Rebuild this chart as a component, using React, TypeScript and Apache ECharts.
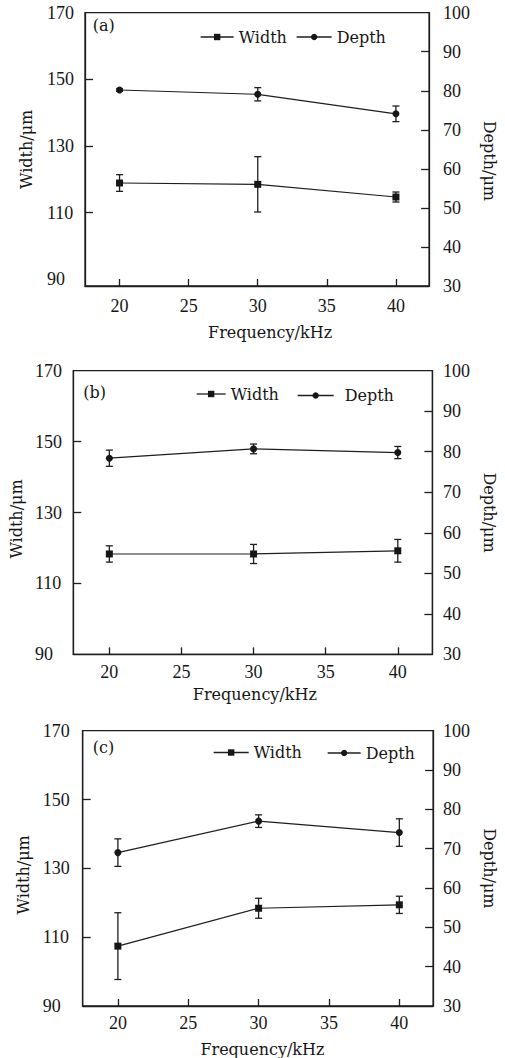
import React, { useEffect, useRef } from "react";
import * as echarts from "echarts";

// ---- data ----
const frequency = [20, 30, 40];
const panelTags = ["(a)", "(b)", "(c)"];

const widthA = [118.9, 118.5, 114.7];
const widthErrA = [2.5, 8.3, 1.5];
const depthA = [80.2, 79.1, 74.1];
const depthErrA = [0.3, 1.7, 2.0];

const widthB = [118.3, 118.3, 119.2];
const widthErrB = [2.3, 2.7, 3.2];
const depthB = [78.4, 80.7, 79.8];
const depthErrB = [2.0, 1.2, 1.5];

const widthC = [107.4, 118.4, 119.4];
const widthErrC = [9.7, 2.9, 2.5];
const depthC = [69.0, 77.0, 74.1];
const depthErrC = [3.5, 1.6, 3.5];

const xTicks = [20, 25, 30, 35, 40];
const widthTicks = [90, 110, 130, 150, 170];
const depthTicks = [30, 40, 50, 60, 70, 80, 90, 100];

const widthSets = [widthA, widthB, widthC];
const widthErrSets = [widthErrA, widthErrB, widthErrC];
const depthSets = [depthA, depthB, depthC];
const depthErrSets = [depthErrA, depthErrB, depthErrC];

// ---- layout (positions & styles) ----
const layouts = [
  {
    grid: { left: 85, top: 12.7, width: 345, height: 273.3 },
    leftMin: 88, leftLabelMargin: 38, rightLabelMargin: 14, xLabelMargin: 11,
    leftNameGap: 51, leftNamePad: [0, 0, 0, 0], rightNameGap: 44, rightNamePad: [0, 0, 0, 23],
    xNameGap: 38, xNamePad: [0, 0, 0, 26],
    tag: { x: 92.7, y: 27 },
    legW: { left: 200, top: 29, itemWidth: 33, pad: [0, 0, 0, 0] },
    legD: { left: 296, top: 29, itemWidth: 35, pad: [0, 0, 0, 0] },
  },
  {
    grid: { left: 71.7, top: 370.7, width: 366, height: 283.6 },
    leftMin: 90, leftLabelMargin: 38.4, rightLabelMargin: 10.7, xLabelMargin: 9,
    leftNameGap: 45, leftNamePad: [0, 13, 0, 0], rightNameGap: 43, rightNamePad: [0, 0, 0, 0],
    xNameGap: 32, xNamePad: [0, 0, 0, 4],
    tag: { x: 83.3, y: 394 },
    legW: { left: 196, top: 386, itemWidth: 29, pad: [0, 0, 0, 0] },
    legD: { left: 297, top: 387.5, itemWidth: 36, pad: [0, 0, 0, 6] },
  },
  {
    grid: { left: 82.7, top: 730.7, width: 362.3, height: 277.6 },
    leftMin: 90, leftLabelMargin: 40, rightLabelMargin: 10, xLabelMargin: 8,
    leftNameGap: 47, leftNamePad: [0, 13, 0, 0], rightNameGap: 41, rightNamePad: [0, 0, 0, 0],
    xNameGap: 35, xNamePad: [0, 0, 0, 9],
    tag: { x: 92.7, y: 749 },
    legW: { left: 213, top: 744.5, itemWidth: 35, pad: [0, 0, 0, 0] },
    legD: { left: 327, top: 745, itemWidth: 33, pad: [0, 0, 0, 0] },
  },
];

const INK = "#161616";
const LINE = "#1e1e1e";
const TICK_FONT = "'Liberation Serif', 'Times New Roman', serif";
const NAME_FONT = "'DejaVu Serif', serif";

function errorBarSeries(xi: number, yi: number, vals: number[], errs: number[]) {
  return {
    type: "custom",
    xAxisIndex: xi,
    yAxisIndex: yi,
    silent: true,
    z: 2,
    encode: { x: 0, y: [1, 2] },
    data: frequency.map((f, k) => [f, vals[k] - errs[k], vals[k] + errs[k]]),
    renderItem: (params: any, api: any) => {
      const x = api.value(0);
      const lo = api.coord([x, api.value(1)]);
      const hi = api.coord([x, api.value(2)]);
      const hw = 3.5;
      const st = { stroke: LINE, lineWidth: 1.3 };
      return {
        type: "group",
        children: [
          { type: "line", shape: { x1: lo[0], y1: lo[1], x2: hi[0], y2: hi[1] }, style: st },
          { type: "line", shape: { x1: lo[0] - hw, y1: lo[1], x2: lo[0] + hw, y2: lo[1] }, style: st },
          { type: "line", shape: { x1: hi[0] - hw, y1: hi[1], x2: hi[0] + hw, y2: hi[1] }, style: st },
        ],
      };
    },
  };
}

function buildOption() {
  const grid: any[] = [];
  const xAxis: any[] = [];
  const yAxis: any[] = [];
  const series: any[] = [];
  const legend: any[] = [];
  const graphic: any[] = [];

  const axisLine = { show: true, lineStyle: { color: LINE, width: 1.3 } };
  const tickLine = { color: LINE, width: 1.3 };
  const labelBase = { fontFamily: TICK_FONT, fontSize: 18, color: INK };
  const nameBase = { fontFamily: NAME_FONT, fontSize: 16, color: INK };

  layouts.forEach((L, i) => {
    grid.push({ ...L.grid, show: true, borderColor: LINE, borderWidth: 1.3, backgroundColor: "transparent", containLabel: false });

    xAxis.push({
      type: "value", gridIndex: i, position: "bottom", min: 17.5, max: 42.4,
      axisLine, splitLine: { show: false },
      axisTick: { show: true, inside: true, length: 7, lineStyle: tickLine, customValues: xTicks },
      axisLabel: { ...labelBase, margin: L.xLabelMargin, customValues: xTicks },
      name: "Frequency/kHz", nameLocation: "middle", nameGap: L.xNameGap,
      nameTextStyle: { ...nameBase, padding: L.xNamePad },
    });

    yAxis.push({
      type: "value", gridIndex: i, position: "left", min: L.leftMin, max: 170,
      axisLine, splitLine: { show: false },
      axisTick: { show: true, inside: true, length: 8, lineStyle: tickLine, customValues: [110, 130, 150] },
      axisLabel: { ...labelBase, align: "left", margin: L.leftLabelMargin, customValues: widthTicks, padding: [5, 0, 0, 0] },
      name: "Width/μm", nameLocation: "middle", nameGap: L.leftNameGap, nameRotate: 90,
      nameTextStyle: { ...nameBase, padding: L.leftNamePad },
    });
    yAxis.push({
      type: "value", gridIndex: i, position: "right", min: 30, max: 100,
      axisLine, splitLine: { show: false },
      axisTick: { show: true, inside: true, length: 8, lineStyle: tickLine, customValues: [40, 50, 60, 70, 80, 90] },
      axisLabel: { ...labelBase, margin: L.rightLabelMargin, customValues: depthTicks, padding: [5, 0, 0, 0] },
      name: "Depth/μm", nameLocation: "middle", nameGap: L.rightNameGap, nameRotate: -90,
      nameTextStyle: { ...nameBase, padding: L.rightNamePad },
    });

    series.push(errorBarSeries(i, 2 * i, widthSets[i], widthErrSets[i]));
    series.push(errorBarSeries(i, 2 * i + 1, depthSets[i], depthErrSets[i]));

    series.push({
      name: "Width", type: "line", xAxisIndex: i, yAxisIndex: 2 * i, z: 3,
      data: frequency.map((f, k) => [f, widthSets[i][k]]),
      symbol: "rect", symbolSize: 7,
      lineStyle: { color: LINE, width: 1.2 }, itemStyle: { color: INK },
    });
    series.push({
      name: "Depth", type: "line", xAxisIndex: i, yAxisIndex: 2 * i + 1, z: 3,
      data: frequency.map((f, k) => [f, depthSets[i][k]]),
      symbol: "circle", symbolSize: 7,
      lineStyle: { color: LINE, width: 1.2 }, itemStyle: { color: INK },
    });

    [["Width", L.legW], ["Depth", L.legD]].forEach(([nm, lg]: any) => {
      legend.push({
        data: [nm], left: lg.left, top: lg.top, orient: "horizontal",
        itemWidth: lg.itemWidth, itemHeight: 8, selectedMode: false, padding: 0,
        textStyle: { ...nameBase, padding: lg.pad },
        lineStyle: { width: 1.3, color: LINE }, itemStyle: { color: INK },
      });
    });

    graphic.push({
      type: "text", left: L.tag.x, top: L.tag.y - 10,
      style: { text: panelTags[i], font: `16px ${NAME_FONT}`, fill: INK },
    });
  });

  return { animation: false, backgroundColor: "#ffffff", grid, xAxis, yAxis, series, legend, graphic };
}

export default function App() {
  const ref = useRef<HTMLDivElement>(null);
  useEffect(() => {
    if (!ref.current) return;
    const chart = echarts.init(ref.current, undefined, { renderer: "svg" });
    chart.setOption(buildOption() as any);
    return () => chart.dispose();
  }, []);
  return (
    <div
      ref={ref}
      style={{ position: "absolute", left: 0, top: 0, width: 505, height: 1058, background: "#fff" }}
    />
  );
}
